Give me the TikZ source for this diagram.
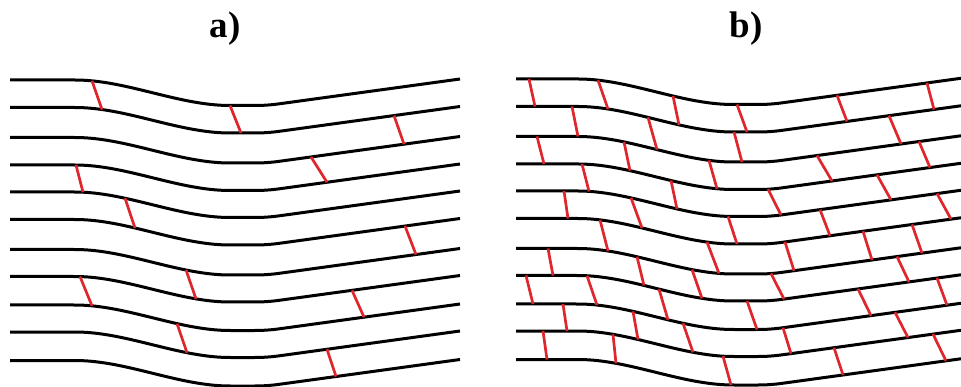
\documentclass[tikz,border=0pt]{standalone}
\usepackage{fontspec}
\setmainfont{Liberation Serif}
\definecolor{segred}{RGB}{222,38,44}
\def\Lys{{0,80,107.5,137.5,165,192,219.5,249.5,276.5,305,332,360.5}}
\begin{document}
\begin{tikzpicture}[x=1pt,y=-1pt,
  declare function={
    stp(\u)=\u*\u*(3-2*\u);
    cc(\u)=max(min(\u,12),-12)+12;
    prof(\v)=25.5*stp(min(max((\v-75)/155,0),1))-0.1373*(cc(\v-267)*cc(\v-267)/48+max(\v-279,0));
  },
  blk/.style={line width=3pt, black, line join=round},
  redseg/.style={line width=2.7pt, segred},
  title/.style={font=\bfseries\fontsize{37}{40}\selectfont, inner sep=0pt}
]
\useasboundingbox (0,0) rectangle (961,387);

% titles
\node[title] (ta) at (225,29) {a)};
\node[title] (tb) at (746,29) {b)};

% panel a: black lines
\foreach \i in {1,...,11}{
  \draw[blk] plot[domain=10:460, samples=150] (\x, {\Lys[\i]+prof(\x)});
}
% panel b: black lines
\foreach \i in {1,...,11}{
  \draw[blk] plot[domain=516:962, samples=150] (\x, {\Lys[\i]-1+prof(\x-503)});
}

% panel a: red segments (row / top x / bottom x)
\foreach \i/\a/\b in {1/92/102, 1/230/241, 2/394/404, 3/311/327, 4/76/83,
  5/125/135, 6/405/416, 7/186/196, 8/80/92, 8/352/364, 9/177/187, 10/327/336}{
  \draw[redseg] (\a, {\Lys[\i]+prof(\a)}) -- (\b, {\Lys[\i+1]+prof(\b)});
}

% panel b: red segments
\foreach \i/\a/\b in {
  1/529/535, 1/598/608, 1/673/679, 1/737/747, 1/837/847, 1/927/934,
  2/572/578, 2/648/657, 2/734/742, 2/889/901,
  3/537/544, 3/624/630, 3/709/717, 3/817/832, 3/919/930,
  4/582/589, 4/671/677, 4/768/781, 4/877/891,
  5/564/568, 5/631/642, 5/728/737, 5/820/830, 5/937/951,
  6/600/608, 6/707/719, 6/785/794, 6/863/872, 6/912/922,
  7/548/553, 7/637/644, 7/692/702, 7/771/784, 7/897/909,
  8/526/533, 8/587/597, 8/659/668, 8/747/757, 8/858/871, 8/937/947,
  9/563/567, 9/633/638, 9/683/693, 9/783/791, 9/895/908,
  10/543/547, 10/613/616, 10/723/731, 10/834/843, 10/933/946}{
  \draw[redseg] (\a, {\Lys[\i]-1+prof(\a-503)}) -- (\b, {\Lys[\i+1]-1+prof(\b-503)});
}
\end{tikzpicture}
\end{document}
